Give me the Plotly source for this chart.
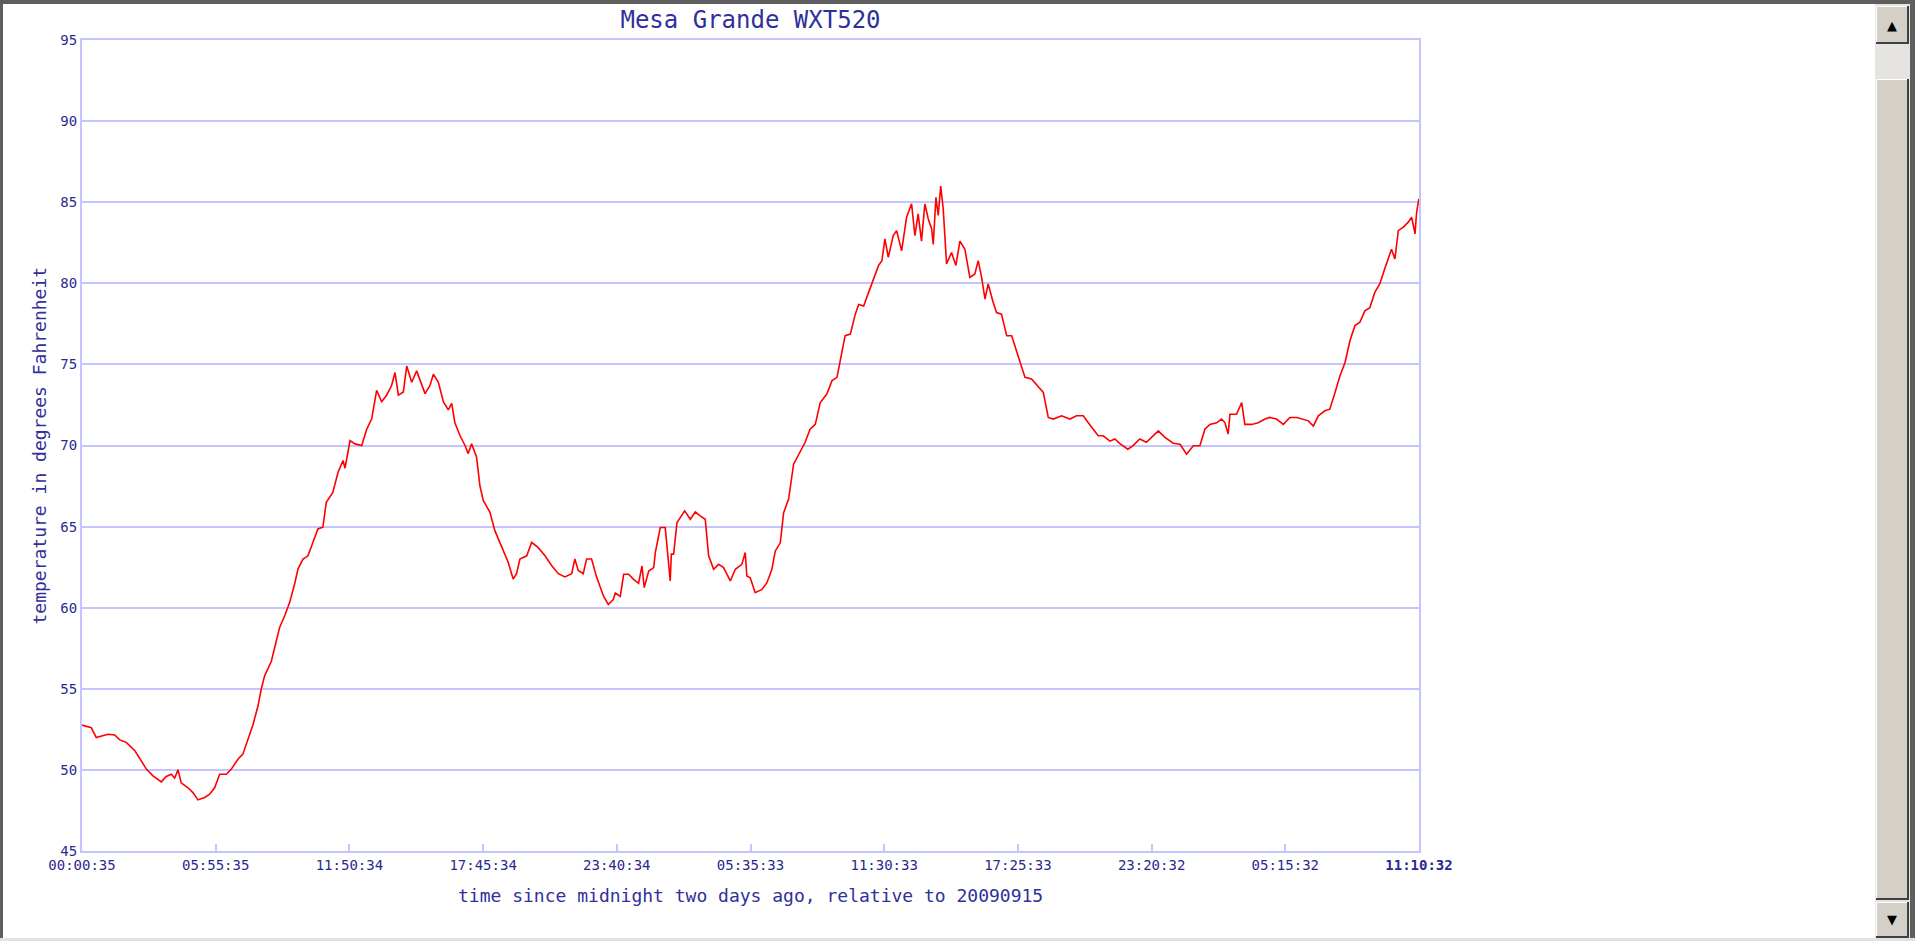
import plotly.graph_objects as go

# ---------------- data ----------------
title_text = "Mesa Grande WXT520"
x_title = "time since midnight two days ago, relative to 20090915"
y_title = "temperature in degrees Fahrenheit"

x_tick_labels = ["00:00:35", "05:55:35", "11:50:34", "17:45:34", "23:40:34",
                 "05:35:33", "11:30:33", "17:25:33", "23:20:32", "05:15:32",
                 "11:10:32"]
y_tick_values = [45, 50, 55, 60, 65, 70, 75, 80, 85, 90, 95]

# hours elapsed since the first sample (00:00:35 two days ago)
elapsed_hours = [
    0.00, 0.41, 0.63, 1.15, 1.45, 1.67, 1.96, 2.33, 2.85, 3.14, 3.51, 3.73, 3.95,
    4.10, 4.25, 4.39, 4.69, 4.91, 5.13, 5.43, 5.65, 5.87, 6.09, 6.39, 6.61, 6.90,
    7.12, 7.35, 7.57, 7.79, 7.93, 8.08, 8.38, 8.60, 8.75, 8.97, 9.19, 9.41, 9.56,
    9.78, 10.00, 10.22, 10.44, 10.66, 10.81, 11.10, 11.33, 11.55, 11.64, 11.77, 11.86,
    12.08, 12.38, 12.60, 12.82, 13.04, 13.26, 13.48, 13.70, 13.85, 14.00, 14.22,
    14.37, 14.59, 14.81, 15.18, 15.40, 15.55, 15.77, 15.99, 16.21, 16.36, 16.50,
    16.73, 16.95, 17.09, 17.24, 17.46, 17.61, 17.76, 18.05, 18.27, 18.57, 18.86,
    19.08, 19.23, 19.38, 19.68, 19.90, 20.19, 20.49, 20.78, 21.08, 21.37, 21.67,
    21.81, 21.96, 22.18, 22.33, 22.55, 22.77, 23.07, 23.29, 23.51,
    23.60, 23.82, 23.97, 24.19, 24.41, 24.63, 24.78, 24.88, 25.08, 25.30, 25.37,
    25.59, 25.81, 25.89, 26.03, 26.08, 26.18, 26.33, 26.48, 26.67, 26.92, 27.14,
    27.36, 27.58, 27.73, 27.95, 28.17, 28.39, 28.69, 28.91, 29.20, 29.35, 29.42,
    29.57, 29.79, 30.09, 30.31, 30.53, 30.68, 30.90, 31.05, 31.27, 31.49, 31.78,
    32.00, 32.22, 32.45, 32.67, 32.96, 33.19, 33.41, 33.55, 33.77, 34.00, 34.22,
    34.37, 34.59, 34.81, 35.03, 35.25, 35.40,
    35.53, 35.68, 35.90, 36.05, 36.27, 36.49, 36.71, 36.86, 37.00, 37.15, 37.30,
    37.45, 37.60, 37.67, 37.79, 37.89, 38.00, 38.11, 38.26, 38.48, 38.67, 38.85,
    39.07, 39.29, 39.51, 39.66, 39.81, 39.96, 40.10, 40.32, 40.47, 40.69, 40.92,
    41.14, 41.36, 41.58, 41.73, 42.02, 42.32, 42.54, 42.76, 42.98, 43.35, 43.72,
    44.01, 44.31, 44.53, 44.75, 44.97, 45.19, 45.49, 45.71, 45.94, 46.28, 46.50,
    46.81, 47.10,
    47.63, 47.92, 48.29, 48.59, 48.88, 49.18, 49.47, 49.69, 49.91, 50.21, 50.43,
    50.58, 50.72, 50.80, 51.09, 51.32, 51.46, 51.76, 52.05, 52.35, 52.57, 52.86,
    53.16, 53.45, 53.75, 54.04, 54.27, 54.49, 54.71, 55.00, 55.22, 55.45, 55.67,
    55.89, 56.11, 56.33, 56.55, 56.77, 56.99, 57.21, 57.43, 57.65, 57.80, 57.95,
    58.10, 58.25, 58.47, 58.69, 58.84, 58.99, 59.06, 59.16,
]
temperature_f = [
    52.76, 52.6, 52.0, 52.2, 52.15, 51.85, 51.7, 51.2, 50.05, 49.63, 49.26, 49.6, 49.73,
    49.5, 50.0, 49.2, 48.9, 48.6, 48.15, 48.3, 48.5, 48.9, 49.73, 49.73, 50.05, 50.66,
    50.97, 51.9, 52.8, 53.95, 54.97, 55.8, 56.7, 57.96, 58.8, 59.5, 60.33, 61.46, 62.4,
    63.0, 63.2, 64.03, 64.86, 64.96, 66.5, 67.1, 68.35, 69.07, 68.6, 69.6, 70.3,
    70.1, 70.0, 71.0, 71.65, 73.4, 72.7, 73.1, 73.7, 74.5, 73.1, 73.3,
    74.9, 73.9, 74.6, 73.2, 73.7, 74.4, 73.9, 72.7, 72.2, 72.6, 71.4,
    70.6, 70.0, 69.5, 70.1, 69.3, 67.5, 66.6, 65.9, 64.75, 63.8, 62.8,
    61.77, 62.1, 63.0, 63.2, 64.03, 63.7, 63.2, 62.6, 62.1, 61.9, 62.1,
    63.0, 62.3, 62.1, 63.0, 63.0, 61.9, 60.74, 60.2, 60.5,
    60.9, 60.7, 62.06, 62.06, 61.75, 61.5, 62.57, 61.24, 62.26, 62.47, 63.4,
    64.94, 64.94, 63.6, 61.65, 63.3, 63.3, 65.25, 65.56, 65.97, 65.45, 65.9,
    65.66, 65.45, 63.2, 62.37, 62.67, 62.47, 61.65, 62.37, 62.67, 63.4, 61.96,
    61.85, 60.93, 61.13, 61.54, 62.37, 63.5, 64.0, 65.86, 66.7, 68.85, 69.57,
    70.2, 71.0, 71.3, 72.65, 73.17, 74.0, 74.2, 75.2, 76.77, 76.87, 78.1,
    78.7, 78.6, 79.44, 80.27, 81.1, 81.4,
    82.74, 81.6, 82.94, 83.25, 82.0, 84.07, 84.9, 82.94, 84.28, 82.6, 84.9,
    83.97, 83.35, 82.4, 85.3, 84.18, 86.0, 84.6, 81.2, 81.9, 81.1, 82.6,
    82.1, 80.37, 80.58, 81.4, 80.37, 79.03, 79.96, 78.83, 78.2, 78.1, 76.77,
    76.77, 75.84, 74.9, 74.2, 74.1, 73.6, 73.27, 71.73, 71.63, 71.83, 71.63,
    71.83, 71.83, 71.4, 71.0, 70.6, 70.6, 70.27, 70.4, 70.1, 69.77, 69.98,
    70.4, 70.2,
    70.9, 70.5, 70.14, 70.08, 69.46, 69.98, 69.98, 71.0, 71.3, 71.4, 71.63,
    71.4, 70.7, 71.93, 71.93, 72.65, 71.3, 71.3, 71.4, 71.63, 71.73, 71.63,
    71.3, 71.73, 71.73, 71.63, 71.52, 71.2, 71.83, 72.14, 72.24, 73.27, 74.3,
    75.1, 76.46, 77.39, 77.6, 78.3, 78.5, 79.44, 79.96, 80.9, 81.5, 82.1,
    81.5, 83.25, 83.46, 83.77, 84.07, 83.05, 84.38, 85.2,
]


def label_hours(labels):
    """Elapsed hours of each clock-time label, rolling over at midnight."""
    out, day, prev, first = [], 0, None, None
    for lab in labels:
        h, m, s = (int(p) for p in lab.split(":"))
        sec = h * 3600 + m * 60 + s
        if prev is not None and sec < prev:
            day += 1
        prev = sec
        tot = day * 86400 + sec
        if first is None:
            first = tot
        out.append((tot - first) / 3600.0)
    return out


x_tick_values = label_hours(x_tick_labels)
x_tick_text = x_tick_labels[:-1] + ["<b>" + x_tick_labels[-1] + "</b>"]

# ---------------- layout geometry / styles ----------------
W, H = 1915, 941
L, R, T, B = 82, 496, 40, 90
PW, PH = W - L - R, H - T - B
FONT = "DejaVu Sans Mono"
TEXT = "#30309a"
TICKTEXT = "#2a2a8c"
GRID = "#c4c4ff"
FRAME = "#5e5e5e"
BTN = "#d4d0c8"


def px(x):
    return (x - L) / PW


def py(y):
    return (H - B - y) / PH


fig = go.Figure()
fig.add_trace(go.Scatter(x=elapsed_hours, y=temperature_f, mode="lines",
                         line=dict(color="#ff0000", width=1.6), hoverinfo="skip",
                         showlegend=False))


def rect(x0, y0, x1, y1, fill, line=None, lw=0):
    return dict(type="rect", xref="paper", yref="paper",
                x0=px(x0), x1=px(x1), y0=py(y1), y1=py(y0),
                fillcolor=fill, line=dict(color=line or fill, width=lw), layer="above")


def button(x0, y0, x1, y1):
    # classic 3-D button: face, light top/left edge, dark bottom/right edge
    return [
        rect(x0, y0, x1, y1, BTN),
        rect(x0, y0, x1, y0 + 1, "#ffffff"),
        rect(x0, y0, x0 + 1, y1, "#ffffff"),
        rect(x0, y1 - 2, x1, y1, "#404040"),
        rect(x1 - 2, y0, x1, y1, "#404040"),
    ]


shapes = [
    rect(0, 0, W, 4, FRAME),
    rect(0, 0, 3, H, FRAME),
    rect(W - 5, 0, W, H, FRAME),
    rect(0, H - 3, W, H, "#e2e2e2"),
    rect(1875, 4, 1910, H - 3, "#e6e4e0"),
]
shapes += button(1876, 6, 1909, 44)
shapes += button(1876, 79, 1909, 900)
shapes += button(1876, 902, 1909, 938)

annotations = [
    dict(text=x_title, xref="paper", yref="paper", x=0.5, y=py(895),
         xanchor="center", yanchor="middle", showarrow=False,
         font=dict(family=FONT, size=18, color=TEXT)),
    dict(text=y_title, xref="paper", yref="paper", x=px(39), y=0.5,
         xanchor="center", yanchor="middle", showarrow=False, textangle=-90,
         font=dict(family=FONT, size=18, color=TEXT)),
    dict(text="▲", xref="paper", yref="paper", x=px(1892), y=py(25),
         xanchor="center", yanchor="middle", showarrow=False,
         font=dict(family="DejaVu Sans", size=13, color="#000000")),
    dict(text="▼", xref="paper", yref="paper", x=px(1892), y=py(919),
         xanchor="center", yanchor="middle", showarrow=False,
         font=dict(family="DejaVu Sans", size=13, color="#000000")),
]

fig.update_layout(
    width=W, height=H, autosize=False,
    margin=dict(l=L, r=R, t=T, b=B, pad=0),
    paper_bgcolor="#ffffff", plot_bgcolor="#ffffff",
    title=dict(text=title_text, x=0.5, xref="paper", xanchor="center",
               y=1 - 19.5 / H, yref="container", yanchor="middle",
               font=dict(family=FONT, size=24, color=TEXT)),
    xaxis=dict(range=[0, x_tick_values[-1]], tickmode="array",
               tickvals=x_tick_values, ticktext=x_tick_text,
               ticks="inside", ticklen=7, tickwidth=2, tickcolor=GRID,
               showgrid=False, zeroline=False, showline=True, linecolor=GRID,
               linewidth=2, mirror=True, fixedrange=True,
               tickfont=dict(family=FONT, size=14, color=TICKTEXT)),
    yaxis=dict(range=[45, 95], tickmode="array", tickvals=y_tick_values,
               ticks="", showgrid=True, gridcolor=GRID, gridwidth=2,
               zeroline=False, showline=True, linecolor=GRID, linewidth=2,
               mirror=True, fixedrange=True,
               tickfont=dict(family=FONT, size=14, color=TICKTEXT)),
    shapes=shapes,
    annotations=annotations,
    showlegend=False,
)

fig.write_html("out.html", config={"displayModeBar": False},
               post_script="document.body.style.margin='0';"
                           "document.body.style.overflow='hidden';")
